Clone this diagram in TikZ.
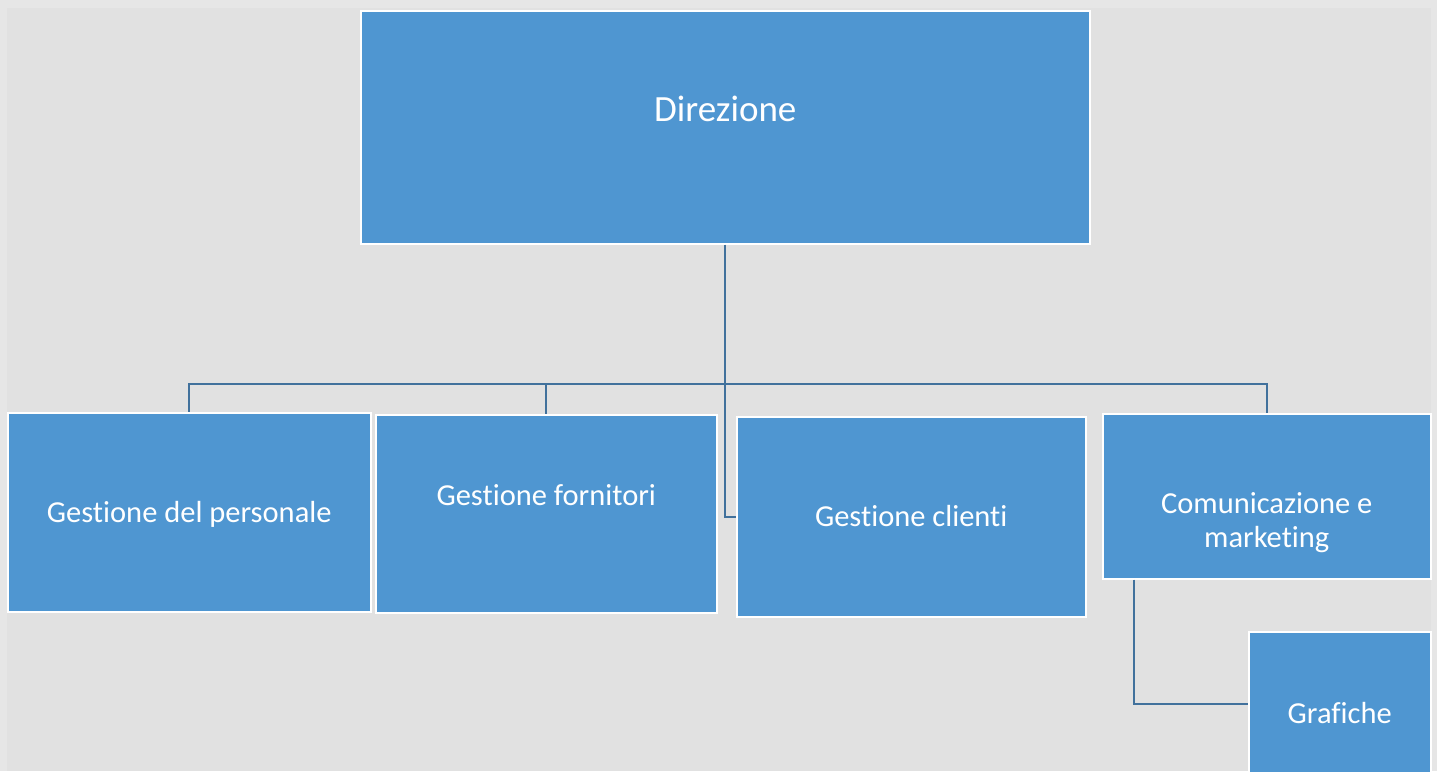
\documentclass[tikz,border=0pt]{standalone}
\usepackage{fontspec}
\setmainfont[Ligatures=NoCommon]{Carlito}
\usetikzlibrary{positioning}
\definecolor{framegray}{HTML}{E6E6E6}
\definecolor{bggray}{HTML}{E1E1E1}
\definecolor{boxblue}{HTML}{4F96D1}
\definecolor{linkblue}{HTML}{41719C}

\begin{document}
\begin{tikzpicture}[x=1pt,y=-1pt,
  box/.style={draw=white,line width=1.5pt,fill=boxblue,text=white,inner sep=0pt,
    anchor=north west,font=\fontsize{30.5}{34}\selectfont},
  oneline/.style={text height=26pt,text depth=6pt},
  link/.style={draw=linkblue,line width=2pt}]
  \clip (0,0) rectangle (1437,771);
  \fill[framegray] (0,0) rectangle (1437,771);
  \fill[bggray] (7,8) rectangle (1431,771);
  % top
  \node[box,minimum width=729pt,minimum height=233pt,font=\fontsize{37}{40}\selectfont,
    text height=27pt,text depth=38pt](dir) at (360,10) {Direzione};
  % first row
  \node[box,oneline,minimum width=363pt,minimum height=199pt](pers) at (7,412) {Gestione del personale};
  \node[box,minimum width=341pt,minimum height=198pt,text height=26pt,text depth=42pt](forn) at (375,414) {Gestione fornitori};
  \node[box,oneline,minimum width=349pt,minimum height=200pt](cli) at (736,416) {Gestione clienti};
  \node[box,minimum width=328pt,minimum height=165pt,align=center,
    text height=103pt,text depth=0pt](comm) at (1102,413) {Comunicazione e\\marketing};
  % below comm
  \node[box,minimum width=182pt,minimum height=144pt,text height=40pt,text depth=0pt](graf) at (1248,631) {Grafiche};
  % links
  \path (dir.south) ++(0,139) coordinate (bus);
  \path (comm.south west) ++(32,0) coordinate (commfoot);
  \draw[link] (dir.south) -- (bus);
  \draw[link] (bus) -| (pers.north);
  \draw[link] (bus) -| (forn.north);
  \draw[link] (bus) -| (comm.north);
  \draw[link] (bus) |- (cli.west);
  \draw[link] (commfoot) |- (graf.west);
\end{tikzpicture}
\end{document}
